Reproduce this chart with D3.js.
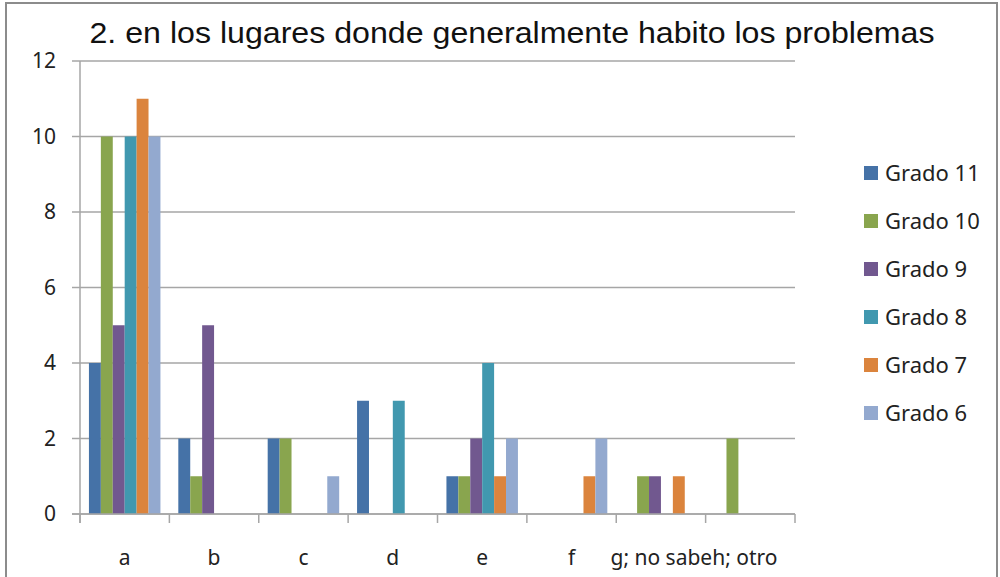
<!DOCTYPE html>
<html>
<head>
<meta charset="utf-8">
<script src="https://cdn.jsdelivr.net/npm/d3@7"></script>
<style>
  html, body { margin: 0; padding: 0; background: #fff; }
  #chart { width: 1000px; height: 577px; overflow: hidden; }
</style>
</head>
<body>
<div id="chart"></div>
<script>
/* Grouped column chart — "2. en los lugares donde generalmente habito los problemas" */

// --- Data ---
var categories = ['a', 'b', 'c', 'd', 'e', 'f', 'g; no sabeh; otro', ''];
var seriesNames = ['Grado 11', 'Grado 10', 'Grado 9', 'Grado 8', 'Grado 7', 'Grado 6'];
var grado11 = [4, 2, 2, 3, 1, 0, 0, 0];
var grado10 = [10, 1, 2, 0, 1, 0, 1, 2];
var grado9  = [5, 5, 0, 0, 2, 0, 1, 0];
var grado8  = [10, 0, 0, 3, 4, 0, 0, 0];
var grado7  = [11, 0, 0, 0, 1, 1, 1, 0];
var grado6  = [10, 0, 1, 0, 2, 2, 0, 0];
var yTicks = [0, 2, 4, 6, 8, 10, 12];
var title = '2. en los lugares donde generalmente habito los problemas';

(function () {
  'use strict';

  var seriesValues = [grado11, grado10, grado9, grado8, grado7, grado6];
  var colors = ['#4572A7', '#89A54E', '#71588F', '#4198AF', '#DB843D', '#93A9CF'];

  var W = 1000, H = 577;
  var plot = { left: 80, right: 795, top: 61, bottom: 514 };
  var font = '"Noto Sans", "Open Sans", sans-serif';

  var svg = d3.select('#chart').append('svg')
    .attr('width', W)
    .attr('height', H);

  // --- Outer frame ---
  svg.append('rect')
    .attr('x', 6).attr('y', 3)
    .attr('width', 991).attr('height', 600)
    .attr('fill', '#fff')
    .attr('stroke', '#8c8c8c')
    .attr('stroke-width', 2);

  // --- Scales ---
  var x = d3.scaleBand()
    .domain(d3.range(categories.length))
    .range([plot.left, plot.right])
    .paddingInner(0)
    .paddingOuter(0);

  // Excel default gap width 150%: band = 6 bars + 1.5 bar
  var barW = x.bandwidth() / (seriesNames.length + 1.5);
  var x1 = d3.scaleBand()
    .domain(d3.range(seriesNames.length))
    .range([barW * 0.75, x.bandwidth() - barW * 0.75])
    .padding(0);

  var y = d3.scaleLinear()
    .domain([0, 12])
    .range([plot.bottom, plot.top]);

  // --- Gridlines & y axis ---
  var grid = svg.append('g');
  grid.selectAll('line')
    .data(yTicks)
    .join('line')
    .attr('x1', plot.left - 8)
    .attr('x2', plot.right)
    .attr('y1', function (d) { return y(d); })
    .attr('y2', function (d) { return y(d); })
    .attr('stroke', '#a6a6a6')
    .attr('stroke-width', 1.5);

  svg.append('line')
    .attr('x1', plot.left).attr('x2', plot.left)
    .attr('y1', plot.top).attr('y2', plot.bottom + 9)
    .attr('stroke', '#a6a6a6')
    .attr('stroke-width', 1.5);

  svg.append('g').selectAll('text')
    .data(yTicks)
    .join('text')
    .attr('x', 56)
    .attr('y', function (d) { return y(d); })
    .attr('dy', '0.35em')
    .attr('text-anchor', 'end')
    .attr('font-family', font)
    .attr('font-size', '21px')
    .attr('fill', '#222')
    .text(function (d) { return d; });

  // --- Category ticks ---
  svg.append('g').selectAll('line')
    .data(d3.range(categories.length + 1))
    .join('line')
    .attr('x1', function (i) { return plot.left + i * x.bandwidth(); })
    .attr('x2', function (i) { return plot.left + i * x.bandwidth(); })
    .attr('y1', plot.bottom)
    .attr('y2', plot.bottom + 9)
    .attr('stroke', '#a6a6a6')
    .attr('stroke-width', 1.5);

  // --- Bars ---
  var groups = svg.append('g').selectAll('g')
    .data(categories)
    .join('g')
    .attr('transform', function (d, i) { return 'translate(' + x(i) + ',0)'; });

  groups.selectAll('rect')
    .data(function (d, ci) {
      return seriesValues.map(function (vals, si) { return { s: si, v: vals[ci] }; });
    })
    .join('rect')
    .attr('x', function (d) { return x1(d.s); })
    .attr('y', function (d) { return y(d.v); })
    .attr('width', x1.bandwidth())
    .attr('height', function (d) { return y(0) - y(d.v); })
    .attr('fill', function (d) { return colors[d.s]; });

  // baseline over bars
  svg.append('line')
    .attr('x1', plot.left - 8).attr('x2', plot.right)
    .attr('y1', y(0)).attr('y2', y(0))
    .attr('stroke', '#a6a6a6')
    .attr('stroke-width', 1.5);

  // --- Category labels ---
  // The long last label spills to the right of its band, as in the source chart
  svg.append('g').selectAll('text')
    .data(categories)
    .join('text')
    .attr('x', function (d, i) {
      return x(i) + x.bandwidth() / 2 + (d.length > 2 ? x.bandwidth() * 0.37 : 0);
    })
    .attr('y', 565)
    .attr('text-anchor', 'middle')
    .attr('font-family', font)
    .attr('font-size', '21px')
    .attr('fill', '#222')
    .text(function (d) { return d; });

  // --- Title ---
  svg.append('text')
    .attr('x', 512)
    .attr('y', 43)
    .attr('text-anchor', 'middle')
    .attr('font-family', '"Liberation Sans", Arial, sans-serif')
    .attr('font-size', '30px')
    .attr('textLength', 845)
    .attr('lengthAdjust', 'spacingAndGlyphs')
    .attr('fill', '#111')
    .text(title);

  // --- Legend ---
  var legend = svg.append('g').selectAll('g')
    .data(seriesNames)
    .join('g')
    .attr('transform', function (d, i) { return 'translate(864,' + (173 + i * 48) + ')'; });

  legend.append('rect')
    .attr('x', 0).attr('y', -7)
    .attr('width', 14).attr('height', 14)
    .attr('fill', function (d, i) { return colors[i]; });

  legend.append('text')
    .attr('x', 21)
    .attr('y', 8)
    .attr('font-family', font)
    .attr('font-size', '22px')
    .attr('fill', '#222')
    .text(function (d) { return d; });
})();
</script>
</body>
</html>
